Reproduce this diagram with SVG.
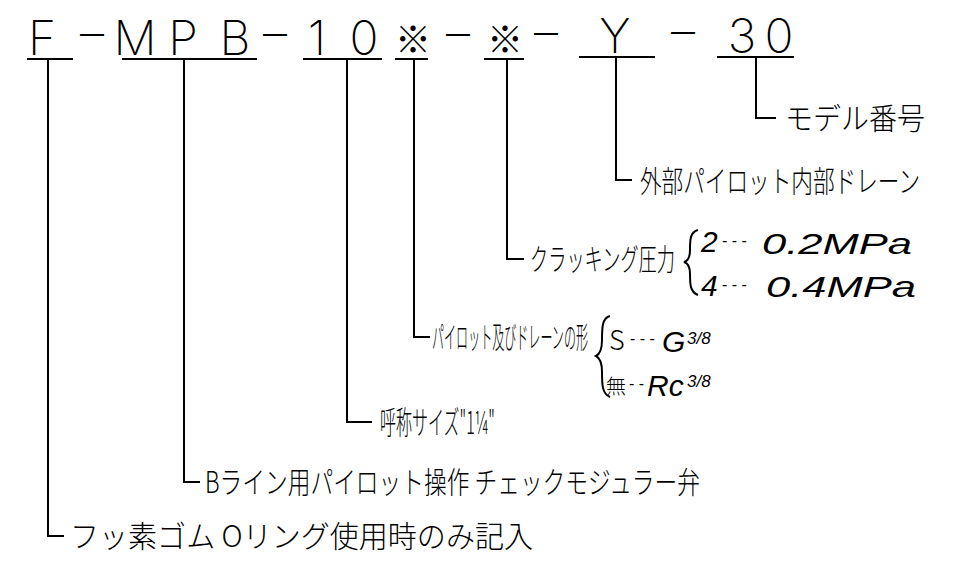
<svg xmlns="http://www.w3.org/2000/svg" width="954" height="575" viewBox="0 0 954 575">
<style>
.code{font-family:"Inter","Roboto","Liberation Sans",sans-serif;font-weight:200;font-size:48px;fill:#000;text-anchor:middle}
.kome{font-family:"Noto Sans CJK JP",sans-serif;font-weight:300;font-size:36px;fill:#000;text-anchor:middle}
.lbl{font-family:"Noto Sans CJK JP",sans-serif;font-weight:300;font-size:30px;fill:#000}
.val{font-family:"Liberation Sans","Noto Sans CJK JP",sans-serif;font-style:italic;font-size:30px;fill:#000}
.dash{font-family:"Liberation Sans",sans-serif;font-size:16px;fill:#000}
.frac{font-family:"Liberation Sans",sans-serif;font-style:italic;font-size:17px;fill:#000}
.ln{stroke:#000;stroke-width:2;fill:none}
</style>
<rect width="954" height="575" fill="#fff"/>
<g id="code">
<text class="code" x="42" y="55">F</text>
<text class="code" x="92" y="50">–</text>
<text class="code" x="135" y="55">M</text>
<text class="code" x="183" y="55">P</text>
<text class="code" x="235" y="55">B</text>
<text class="code" x="275" y="50">–</text>
<text class="code" x="317" y="55">1</text>
<text class="code" x="364" y="55">0</text>
<text class="kome" x="413" y="53">※</text>
<text class="code" x="458" y="50">–</text>
<text class="kome" x="505" y="53">※</text>
<text class="code" x="546" y="49">–</text>
<text class="code" x="615" y="53">Y</text>
<text class="code" x="683" y="48">–</text>
<text class="code" x="742" y="53">3</text>
<text class="code" x="779" y="53">0</text>
<path class="ln" d="M27,59H73M122,59H257M303,59H382M395,59H428M484,59H524M579,57H655M717,57H794"/>
</g>
<g id="connectors">
<path class="ln" d="M48,59V536H64"/>
<path class="ln" d="M184,59V482H200"/>
<path class="ln" d="M347,59V422H372"/>
<path class="ln" d="M414,59V337H430"/>
<path class="ln" d="M507,59V259H524"/>
<path class="ln" d="M616,57V180H632"/>
<path class="ln" d="M756,57V118H776"/>
</g>
<g id="n-model"><text class="lbl" x="785" y="129" textLength="140" lengthAdjust="spacingAndGlyphs">モデル番号</text></g>
<g id="n-pilot"><text class="lbl" x="640" y="192" textLength="280" lengthAdjust="spacingAndGlyphs">外部パイロット内部ドレーン</text></g>
<g id="n-crack">
<text class="lbl" x="530" y="270" textLength="145" lengthAdjust="spacingAndGlyphs">クラッキング圧力</text>
<path class="ln" d="M698,230C690,232 690,240 690,250C690,258 688,261 684,262C688,263 690,266 690,274C690,284 690,292 698,295"/>
<text class="val" x="701" y="252">2</text>
<text class="dash" x="722" y="246">- - -</text>
<text class="val" x="762" y="254" textLength="150" lengthAdjust="spacingAndGlyphs">0.2MPa</text>
<text class="val" x="701" y="296">4</text>
<text class="dash" x="722" y="290">- - -</text>
<text class="val" x="766" y="297" textLength="150" lengthAdjust="spacingAndGlyphs">0.4MPa</text>
</g>
<g id="n-port">
<text class="lbl" x="432" y="348" textLength="156" lengthAdjust="spacingAndGlyphs">パイロット及びドレーンの形</text>
<path class="ln" d="M610,316C602,318 602,328 602,340C602,350 600,354 596,356C600,358 602,362 602,372C602,384 602,394 610,397"/>
<text class="lbl" x="609" y="350" style="font-size:27px">S</text>
<text class="dash" x="630" y="344">- - -</text>
<text class="val" x="662" y="352">G</text>
<text class="frac" x="687" y="344">3/8</text>
<text class="lbl" x="606" y="394" style="font-size:20px">無</text>
<text class="dash" x="629" y="389">- -</text>
<text class="val" x="647" y="396">Rc</text>
<text class="frac" x="687" y="387">3/8</text>
</g>
<g id="n-size"><text class="lbl" x="380" y="434" style="font-size:32px" textLength="115" lengthAdjust="spacingAndGlyphs">呼称サイズ"1¼"</text></g>
<g id="n-type"><text class="lbl" x="205" y="493" textLength="495" lengthAdjust="spacingAndGlyphs">Bライン用パイロット操作 チェックモジュラー弁</text></g>
<g id="n-oring"><text class="lbl" x="70" y="547" textLength="463" lengthAdjust="spacingAndGlyphs">フッ素ゴム Oリング使用時のみ記入</text></g>
</svg>
